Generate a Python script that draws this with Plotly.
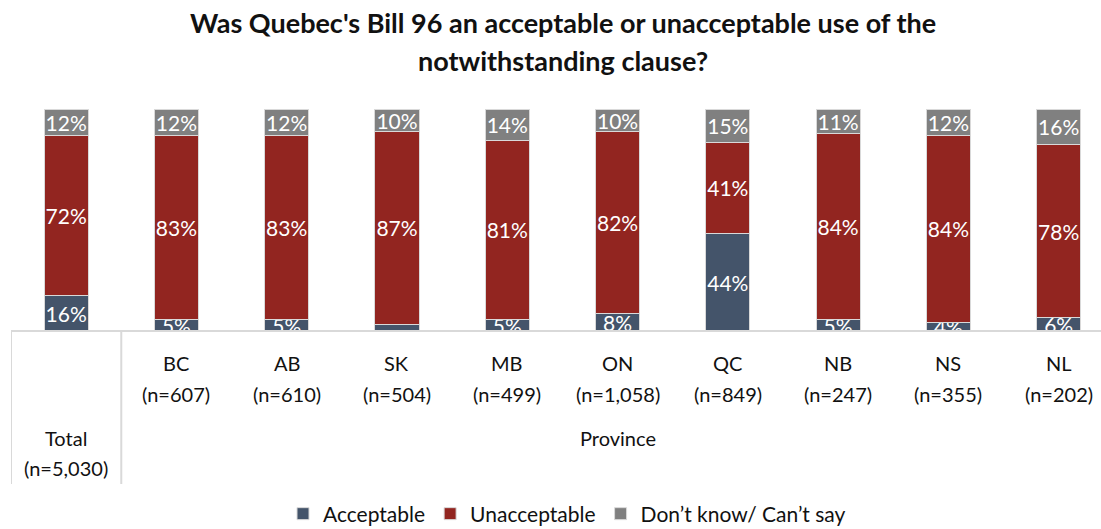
import plotly.graph_objects as go

# Survey results by region (percent of respondents)
categories = ["Total", "BC", "AB", "SK", "MB", "ON", "QC", "NB", "NS", "NL"]
sample_sizes = ["5,030", "607", "610", "504", "499", "1,058", "849", "247", "355", "202"]
acceptable = [16, 5, 5, 3, 5, 8, 44, 5, 4, 6]
unacceptable = [72, 83, 83, 87, 81, 82, 41, 84, 84, 78]
dont_know = [12, 12, 12, 10, 14, 10, 15, 11, 12, 16]

series_names = ["Acceptable", "Unacceptable", "Don\u2019t know/ Can\u2019t say"]
series_colors = ["#44546A", "#922520", "#808080"]

FONT = "Lato"
W, H = 1101, 529
M_L, M_R, M_T, M_B = 11, 0, 109, 198
plot_h = H - M_T - M_B

x_idx = list(range(len(categories)))


def labels(values, min_shown=4):
    return [f"{v}%" if v >= min_shown else "" for v in values]


fig = go.Figure()
for name, vals, color in zip(series_names, [acceptable, unacceptable, dont_know], series_colors):
    fig.add_trace(go.Bar(
        x=x_idx, y=vals, name=name,
        marker=dict(color=color, line=dict(color="#D9D9D9", width=1)),
        text=labels(vals),
        textposition="inside", insidetextanchor="middle",
        constraintext="none", textangle=0,
        textfont=dict(family=FONT, size=21, color="white"),
        hoverinfo="skip",
    ))

grid_color = "#D9D9D9"
table_depth = -153 / plot_h  # bottom of the category table, in paper units

shapes = [
    dict(type="line", xref="paper", yref="paper", x0=0, x1=1, y0=0, y1=0,
         line=dict(color=grid_color, width=2)),
    dict(type="line", xref="x", yref="paper", x0=-0.5, x1=-0.5, y0=0, y1=table_depth,
         line=dict(color=grid_color, width=2)),
    dict(type="line", xref="x", yref="paper", x0=0.5, x1=0.5, y0=0, y1=table_depth,
         line=dict(color=grid_color, width=2)),
]

annotations = []
label_font = dict(family=FONT, size=20, color="#111111")
for i, (cat, n) in enumerate(zip(categories, sample_sizes)):
    if i == 0:
        y1, y2 = 438, 468
    else:
        y1, y2 = 363, 394
    annotations.append(dict(x=i, y=0, xref="x", yref="paper", text=cat, showarrow=False,
                            yanchor="middle", yshift=-(y1 - (H - M_B)), font=label_font))
    annotations.append(dict(x=i, y=0, xref="x", yref="paper", text=f"(n={n})", showarrow=False,
                            yanchor="middle", yshift=-(y2 - (H - M_B)), font=label_font))

annotations.append(dict(x=5, y=0, xref="x", yref="paper", text="Province", showarrow=False,
                        yanchor="middle", yshift=-(438 - (H - M_B)), font=label_font))

# Two-line title
title_x = (563 - M_L) / (W - M_L - M_R)
title_font = dict(family=FONT, size=27, color="#111111")
for text, y_px in [("<b>Was Quebec's Bill 96 an acceptable or unacceptable use of the</b>", 22),
                   ("<b>notwithstanding clause?</b>", 60)]:
    annotations.append(dict(x=title_x, y=1, xref="paper", yref="paper", text=text,
                            showarrow=False, xanchor="center", yanchor="middle",
                            yshift=M_T - y_px, font=title_font))

plot_w = W - M_L - M_R
cat_px = 110.28
x_max = -0.5 + plot_w / cat_px

fig.update_layout(
    width=W, height=H,
    margin=dict(l=M_L, r=M_R, t=M_T, b=M_B, autoexpand=False),
    barmode="stack", bargap=0.6,
    paper_bgcolor="white", plot_bgcolor="white",
    font=dict(family=FONT, color="#111111"),
    xaxis=dict(range=[-0.5, x_max], showticklabels=False, showgrid=False,
               zeroline=False, showline=False, ticks="", fixedrange=True),
    yaxis=dict(range=[0, 100], visible=False, fixedrange=True),
    legend=dict(orientation="h", x=(567 - M_L) / plot_w, xanchor="center",
                y=-(514 - (H - M_B)) / plot_h, yanchor="middle",
                font=dict(family=FONT, size=21, color="#111111"),
                traceorder="normal", itemwidth=30),
    shapes=shapes,
    annotations=annotations,
)

fig.write_html("out.html")
